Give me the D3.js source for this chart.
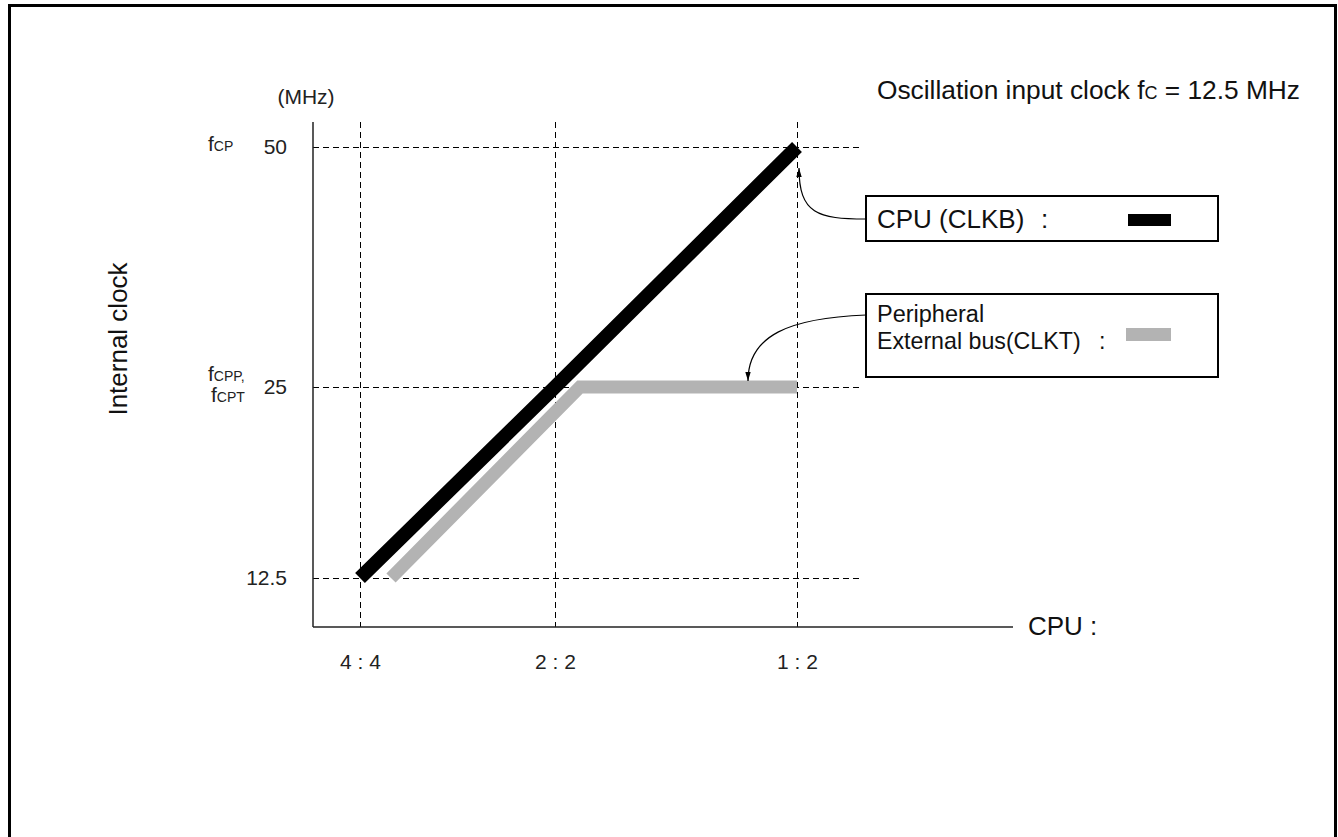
<!DOCTYPE html>
<html><head><meta charset="utf-8">
<script src="https://cdn.jsdelivr.net/npm/d3@7"></script>
<style>
html,body{margin:0;padding:0;background:#fff;}
svg{display:block;font-family:"Liberation Sans",Arial,sans-serif;}
text{white-space:pre;}
</style></head>
<body><svg id="c" width="1338" height="837"></svg>
<script>
// ---- data ----
const ratios = ["4 : 4", "2 : 2", "1 : 2"];
const yTicks = [12.5, 25, 50];
const cpuClock = [12.5, 25, 50];          // CPU (CLKB) MHz per ratio
const periphClock = [12.5, 25, 25];       // Peripheral / External bus (CLKT) MHz per ratio
const yTickNames = {50: ["fCP"], 25: ["fCPP,", "fCPT"]};

// ---- layout ----
const svg = d3.select("#c");
const x = d3.scaleOrdinal().domain(ratios).range([360, 555, 797]);
const y = d3.scaleLinear().domain(yTicks).range([578, 387, 147]);
const axisX0 = 313, axisX1 = 1013, axisY0 = 122, axisY1 = 627, gridX1 = 862;
const FONT = "Liberation Sans, Arial, sans-serif";

// frame
svg.append("rect").attr("x", 9.5).attr("y", 5.5).attr("width", 1326).attr("height", 900)
  .attr("fill", "none").attr("stroke", "#000").attr("stroke-width", 3);

// grid
const g = svg.append("g").attr("shape-rendering", "crispEdges");
g.selectAll(".hg").data(yTicks).join("line")
  .attr("x1", axisX0).attr("x2", gridX1).attr("y1", d => y(d)).attr("y2", d => y(d))
  .attr("stroke", "#000").attr("stroke-width", 1).attr("stroke-dasharray", "6,4");
g.selectAll(".vg").data(ratios).join("line")
  .attr("x1", d => x(d)).attr("x2", d => x(d)).attr("y1", axisY0).attr("y2", axisY1)
  .attr("stroke", "#000").attr("stroke-width", 1).attr("stroke-dasharray", "6,4");

// axes lines
svg.append("line").attr("x1", axisX0).attr("x2", axisX0).attr("y1", axisY0).attr("y2", axisY1)
  .attr("stroke", "#222").attr("stroke-width", 1.5);
svg.append("line").attr("x1", axisX0).attr("x2", axisX1).attr("y1", axisY1).attr("y2", axisY1)
  .attr("stroke", "#222").attr("stroke-width", 1.5);

// x tick labels
const xa = svg.append("g").attr("transform", `translate(0,${axisY1})`)
  .call(d3.axisBottom(x).tickSize(0).tickPadding(27));
xa.select(".domain").remove();
xa.selectAll("text").attr("font-size", 21).attr("font-family", FONT).attr("fill", "#222");

// y tick labels
const ya = svg.append("g").attr("transform", `translate(${axisX0 - 26},0)`)
  .call(d3.axisLeft(y).tickValues(yTicks).tickSize(0).tickPadding(0).tickFormat(d => String(d)));
ya.select(".domain").remove();
ya.selectAll("text").attr("font-size", 21).attr("font-family", FONT).attr("fill", "#222");

// y tick symbolic names
Object.entries(yTickNames).forEach(([v, names]) => {
  names.forEach((nm, i) => {
    const t = svg.append("text").attr("x", 208 + i * 3).attr("y", y(+v) + 4 + (i - (names.length - 1) / 2) * 21)
      .attr("fill", "#222");
    t.append("tspan").attr("font-size", 21).text(nm[0]);
    t.append("tspan").attr("font-size", 14).text(nm.slice(1));
  });
});

// unit and titles
svg.append("text").attr("x", 306).attr("y", 104).attr("text-anchor", "middle").attr("font-size", 21)
  .attr("fill", "#222").text("(MHz)");
svg.append("text").attr("transform", "translate(127,339) rotate(-90)").attr("text-anchor", "middle")
  .attr("font-size", 26).attr("fill", "#111").text("Internal clock");
svg.append("text").attr("x", 1028).attr("y", 635).attr("font-size", 26).attr("fill", "#111").text("CPU :");
const tt = svg.append("text").attr("x", 877).attr("y", 99).attr("font-size", 26.3).attr("fill", "#111");
tt.append("tspan").text("Oscillation input clock f");
tt.append("tspan").attr("font-size", 18).text("C");
tt.append("tspan").text(" = 12.5 MHz");

// series lines
const line = d3.line().x(d => d[0]).y(d => d[1]);
svg.append("path")
  .attr("d", line(ratios.map((r, i) => [x(r), y(cpuClock[i])])))
  .attr("fill", "none").attr("stroke", "#000").attr("stroke-width", 14).attr("stroke-linecap", "butt");
const shift = [31, 25, 0];   // visual offset so the grey line sits beside the black one
svg.append("path")
  .attr("d", line(ratios.map((r, i) => [x(r) + shift[i], y(periphClock[i])])))
  .attr("fill", "none").attr("stroke", "#b3b3b3").attr("stroke-width", 13)
  .attr("stroke-linecap", "butt").attr("stroke-linejoin", "miter");

// legend boxes
svg.append("defs").append("marker").attr("id", "ah").attr("viewBox", "0 0 10 10")
  .attr("refX", 10).attr("refY", 5).attr("markerWidth", 9).attr("markerHeight", 9)
  .attr("markerUnits", "userSpaceOnUse").attr("orient", "auto")
  .append("path").attr("d", "M0,2 L10,5 L0,8 Z").attr("fill", "#000");

svg.append("rect").attr("x", 866).attr("y", 196).attr("width", 352).attr("height", 45)
  .attr("fill", "#fff").attr("stroke", "#000").attr("stroke-width", 2);
svg.append("text").attr("x", 877).attr("y", 228).attr("font-size", 26).attr("fill", "#111").text("CPU (CLKB)");
svg.append("text").attr("x", 1041).attr("y", 228).attr("font-size", 26).attr("fill", "#111").text(":");
svg.append("rect").attr("x", 1128).attr("y", 214).attr("width", 43).attr("height", 12).attr("fill", "#000");
svg.append("path").attr("d", "M866,219 C818,219 799,214 799,168")
  .attr("fill", "none").attr("stroke", "#000").attr("stroke-width", 1.2).attr("marker-end", "url(#ah)");

svg.append("rect").attr("x", 866).attr("y", 294).attr("width", 352).attr("height", 83)
  .attr("fill", "#fff").attr("stroke", "#000").attr("stroke-width", 2);
svg.append("text").attr("x", 877).attr("y", 322).attr("font-size", 23.5).attr("fill", "#111").text("Peripheral");
svg.append("text").attr("x", 877).attr("y", 349).attr("font-size", 23.2).attr("fill", "#111").text("External bus(CLKT)");
svg.append("text").attr("x", 1099).attr("y", 349).attr("font-size", 23.2).attr("fill", "#111").text(":");
svg.append("rect").attr("x", 1126).attr("y", 328).attr("width", 45).attr("height", 13).attr("fill", "#b3b3b3");
svg.append("path").attr("d", "M866,315 C790,318 748,335 748,381")
  .attr("fill", "none").attr("stroke", "#000").attr("stroke-width", 1.2).attr("marker-end", "url(#ah)");
</script></body></html>
